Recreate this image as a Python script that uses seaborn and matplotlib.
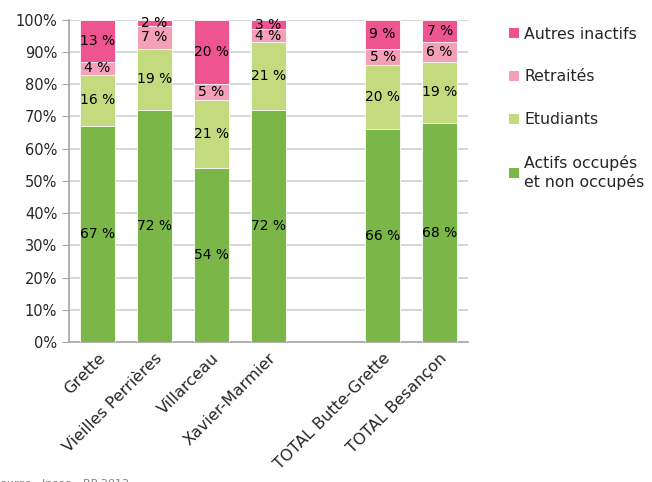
import numpy as np
import pandas as pd
import matplotlib
matplotlib.use("Agg")
import matplotlib.pyplot as plt
import seaborn as sns
from matplotlib.patches import Patch

categories = ["Grette", "Vieilles Perrières", "Villarceau", "Xavier-Marmier", " ",
              "TOTAL Butte-Grette", "TOTAL Besançon"]
actifs = [67, 72, 54, 72, np.nan, 66, 68]
etudiants = [16, 19, 21, 21, np.nan, 20, 19]
retraites = [4, 7, 5, 4, np.nan, 5, 6]
autres = [13, 2, 20, 3, np.nan, 9, 7]

series_names = ["Actifs occupés\net non occupés", "Etudiants", "Retraités", "Autres inactifs"]
colors = ["#7AB648", "#C3DA7E", "#F4A0B8", "#EE5490"]

df = pd.DataFrame({"cat": categories, "a": actifs, "e": etudiants, "r": retraites, "o": autres})
cols = ["a", "e", "r", "o"]
cum = df[cols].cumsum(axis=1)
cum["cat"] = df["cat"]

sns.set_style("white")
plt.rcParams["font.family"] = ["DejaVu Sans"]

fig = plt.figure(figsize=(6.52, 4.82), dpi=100)
ax = fig.add_axes([0.106, 0.290, 0.612, 0.669])

# draw from the top segment down so each layer covers the one beneath
for col, color in reversed(list(zip(cols, colors))):
    sns.barplot(data=cum, x="cat", y=col, order=categories, color=color,
                saturation=1, width=0.62, ax=ax, zorder=3, errorbar=None,
                edgecolor="white", linewidth=0.6)

# segment labels
for i, cat in enumerate(categories):
    base = 0
    for col in cols:
        v = df.loc[i, col]
        if np.isnan(v):
            continue
        ax.text(i, base + v / 2, f"{int(v)} %", ha="center", va="center",
                fontsize=10, color="black", zorder=4)
        base += v

ax.set_ylim(0, 100)
ax.set_xlim(-0.5, len(categories) - 0.5)
ax.set_yticks(range(0, 101, 10))
ax.set_yticklabels([f"{t}%" for t in range(0, 101, 10)], fontsize=10.5)
ax.set_xticks(range(len(categories)))
ax.set_xticklabels(categories, rotation=45, ha="right", rotation_mode="anchor", fontsize=11.5)
ax.set_xticks(np.arange(-0.5, len(categories), 1), minor=True)
ax.tick_params(axis="x", which="major", length=0, pad=6)
ax.tick_params(axis="x", which="minor", length=5, color="#A6A6A6", direction="out")
ax.tick_params(axis="y", length=5, color="#A6A6A6", direction="out", left=True)
ax.set_xlabel("")
ax.set_ylabel("")
ax.yaxis.grid(True, color="#D0D0D0", linewidth=1.2, zorder=0)
ax.set_axisbelow(True)
for s in ["top", "right"]:
    ax.spines[s].set_visible(False)
for s in ["left", "bottom"]:
    ax.spines[s].set_color("#A6A6A6")
    ax.spines[s].set_linewidth(1.2)

handles = [Patch(facecolor=c, edgecolor="none") for c in reversed(colors)]
fig.legend(handles, list(reversed(series_names)), loc="upper left",
           bbox_to_anchor=(0.78, 0.945), frameon=False, fontsize=11.3,
           handlelength=0.65, handleheight=0.65, handletextpad=0.35,
           labelspacing=1.78, borderpad=0, borderaxespad=0)

fig.text(-0.01, -0.004, "Source : Insee - RP 2012", fontsize=8, color="#808080", va="center")

fig.savefig("out.png", dpi=100)
